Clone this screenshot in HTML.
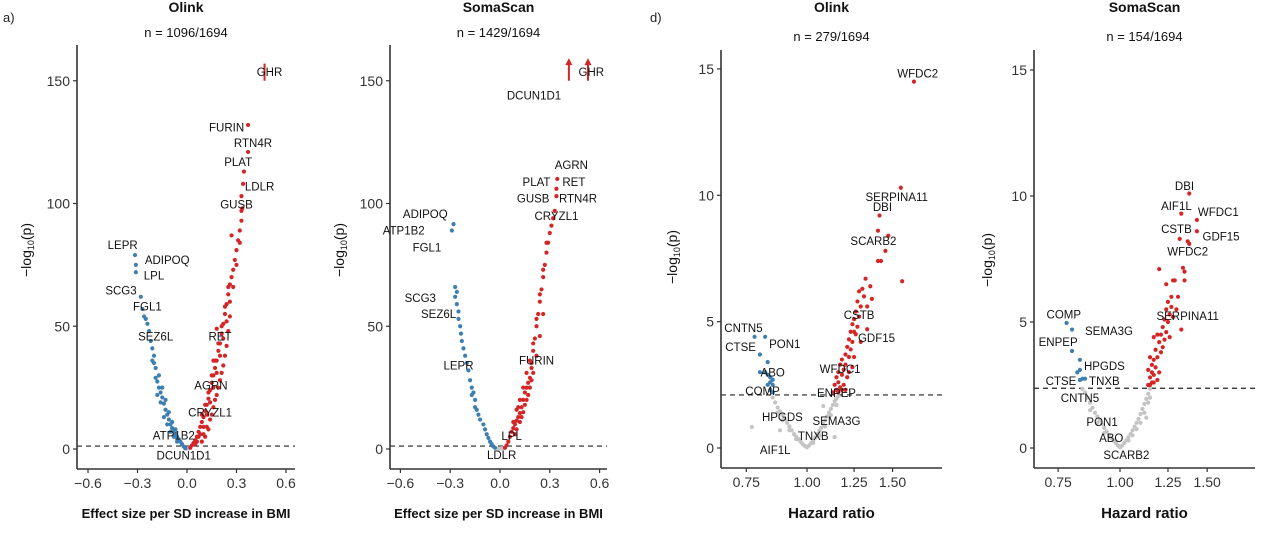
<!DOCTYPE html>
<html><head><meta charset="utf-8">
<style>
html,body{margin:0;padding:0;background:#fff;}
svg{display:block;font-family:"Liberation Sans",sans-serif;}
</style></head>
<body>
<svg id="fig" width="1280" height="544" viewBox="0 0 1280 544" xmlns="http://www.w3.org/2000/svg">
<text x="3" y="22" font-size="13" fill="#222">a)</text>
<text x="650" y="22" font-size="13" fill="#222">d)</text>
</svg>
<script>
// ---------- Panel A: Olink BMI ----------
const aRed = [[0.02,0.5],[0.03,1.5],[0.04,2.5],[0.05,3.5],[0.06,5],[0.07,7],[0.08,9],[0.09,11],[0.1,13],[0.11,15.5],[0.12,18],[0.13,20.5],[0.14,24],[0.15,27],[0.16,30],[0.17,33],[0.18,36],[0.19,40],[0.2,43],[0.21,47],[0.22,51],[0.23,55],[0.24,59],[0.25,63],[0.26,67],[0.27,70],[0.28,73],[0.29,77],[0.3,81],[0.31,85],[0.32,89],[0.33,93],[0.335,98],[0.33,103],[0.34,108],[0.345,113],[0.37,121],[0.37,132],[0.27,87],[0.18,49],[0.16,36],[0.06,3],[0.08,6],[0.1,9],[0.12,14],[0.14,19],[0.16,25],[0.18,31],[0.2,38],[0.22,45],[0.24,52],[0.26,60],[0.28,66],[0.3,75],[0.32,84],[0.33,97],[0.09,14],[0.11,18],[0.13,23],[0.15,30],[0.17,36],[0.19,43],[0.21,50],[0.23,58],[0.25,66],[0.07,5],[0.05,2],[0.1,6],[0.12,9],[0.14,12],[0.16,17],[0.18,22],[0.2,28],[0.22,34],[0.24,42],[0.13,8],[0.15,14],[0.17,20],[0.19,25],[0.21,31],[0.23,38],[0.11,5],[0.09,3],[0.25,48],[0.26,54]];
const aBlue = [[-0.01,0.3],[-0.02,1],[-0.03,2],[-0.04,3],[-0.05,4],[-0.06,5],[-0.07,6],[-0.08,7.5],[-0.09,8.5],[-0.1,10],[-0.11,12],[-0.12,14],[-0.13,16],[-0.14,18.5],[-0.15,21],[-0.16,23],[-0.17,25],[-0.18,27.5],[-0.19,33],[-0.2,38],[-0.21,41],[-0.22,44],[-0.23,48],[-0.24,51],[-0.25,53],[-0.26,54],[-0.27,57],[-0.28,62],[-0.315,79],[-0.31,75],[-0.31,72],[-0.13,20],[-0.15,25],[-0.17,30],[-0.2,35],[-0.11,15],[-0.09,11],[-0.07,8],[-0.18,22],[-0.16,19],[-0.06,3],[-0.08,5],[-0.1,7],[-0.12,10],[-0.14,13],[-0.19,29],[-0.21,36]];
const aGray = [[0,0.2],[0.01,0.3],[-0.01,0.2]];
const aBars = [[0.47,150,157]];
const aArrows = [];
const aLabels = [["GHR",0.5,153.6],["FURIN",0.24,131],["RTN4R",0.4,124.6],["PLAT",0.31,117],["LDLR",0.44,107],["GUSB",0.3,99.6],["LEPR",-0.39,83],["ADIPOQ",-0.12,77],["LPL",-0.2,70.7],["SCG3",-0.4,64.6],["FGL1",-0.24,58],["SEZ6L",-0.19,45.8],["RET",0.2,45.8],["AGRN",0.145,25.8],["CRYZL1",0.14,14.9],["ATP1B2",-0.08,5.5],["DCUN1D1",-0.02,-2.6]];
const aXTicks = [-0.6,-0.3,0.0,0.3,0.6];
const aXTickLabels = ["-0.6","-0.3","0.0","0.3","0.6"];
const aYTicks = [0,50,100,150];
const aThreshold = 1.2;

// ---------- Panel B: SomaScan BMI ----------
const bRed = [[0.03,0.5],[0.04,1.5],[0.05,3],[0.06,5],[0.07,7],[0.08,8.5],[0.09,10],[0.1,11.5],[0.11,13],[0.12,14.6],[0.13,17],[0.14,20],[0.15,23],[0.16,25],[0.17,27],[0.18,29],[0.19,35],[0.2,40],[0.21,45],[0.22,50],[0.23,55],[0.24,60],[0.25,65],[0.26,70],[0.27,75],[0.28,80],[0.29,84],[0.3,88],[0.31,91],[0.32,94],[0.34,103],[0.34,106],[0.345,110],[0.33,97],[0.1,16],[0.12,20],[0.14,25],[0.16,31],[0.18,36],[0.2,43],[0.22,53],[0.24,63],[0.26,73],[0.28,84],[0.08,11],[0.11,17],[0.19,33],[0.1,8],[0.12,11],[0.14,15],[0.16,20],[0.18,25],[0.2,31],[0.22,38],[0.24,46],[0.26,55],[0.09,6],[0.13,13],[0.15,18],[0.17,22],[0.19,28]];
const bBlue = [[-0.28,91.6],[-0.29,89],[-0.27,66],[-0.26,64],[-0.27,62],[-0.26,59],[-0.25,56],[-0.25,53],[-0.24,50],[-0.235,47],[-0.23,44],[-0.22,41],[-0.21,38],[-0.2,35],[-0.19,32],[-0.18,28],[-0.17,25],[-0.16,23],[-0.15,20],[-0.14,16],[-0.13,14],[-0.12,12],[-0.1,10],[-0.09,8],[-0.08,6],[-0.07,4.5],[-0.06,3],[-0.05,2],[-0.04,1],[-0.03,0.5],[-0.17,22],[-0.15,17]];
const bGray = [[0,0.2],[0.01,0.3],[-0.01,0.2],[0.02,0.3]];
const bBars = [];
const bArrows = [[0.415,150,158],[0.53,150,158]];
const bLabels = [["GHR",0.55,153.6],["DCUN1D1",0.205,144],["AGRN",0.43,115.7],["PLAT",0.22,108.8],["RET",0.445,108.8],["GUSB",0.2,102],["RTN4R",0.47,102],["CRYZL1",0.34,95],["ADIPOQ",-0.45,95.7],["ATP1B2",-0.58,89],["FGL1",-0.44,82],["SCG3",-0.48,61.5],["SEZ6L",-0.37,55],["LEPR",-0.25,34],["FURIN",0.22,36],["LPL",0.07,5.3],["LDLR",0.01,-2.4]];
const bXTicks = [-0.6,-0.3,0.0,0.3,0.6];
const bXTickLabels = ["-0.6","-0.3","0.0","0.3","0.6"];
const bYTicks = [0,50,100,150];
const bThreshold = 1.2;

// ---------- Panel D: Olink hazard ratio ----------
const dRed = [[1.13,2.2],[1.14,2.5],[1.15,2.3],[1.15,2.8],[1.16,2.6],[1.16,3.0],[1.17,2.4],[1.17,3.3],[1.18,2.9],[1.18,3.5],[1.19,3.1],[1.19,2.5],[1.2,3.7],[1.2,3.3],[1.21,4.0],[1.21,2.8],[1.22,3.6],[1.22,4.3],[1.23,4.6],[1.23,3.9],[1.24,4.9],[1.24,4.2],[1.25,5.1],[1.25,3.6],[1.26,5.4],[1.26,4.5],[1.27,5.8],[1.27,4.8],[1.28,6.2],[1.28,5.2],[1.29,5.6],[1.3,6.3],[1.31,6.0],[1.32,6.7],[1.33,5.6],[1.35,6.4],[1.36,5.9],[1.33,4.7],[1.24,3.2],[1.2,2.3],[1.4,7.4],[1.42,7.4],[1.45,7.8],[1.4,8.6],[1.47,8.4],[1.41,9.2],[1.56,10.3],[1.57,6.6],[1.66,14.5],[1.16,2.2],[1.18,2.3],[1.22,3.0],[1.25,4.6],[1.29,4.2]];
const dBlue = [[0.78,4.4],[0.82,4.4],[0.8,3.7],[0.83,3.4],[0.8,3.0],[0.82,3.0],[0.83,2.9],[0.84,2.8],[0.84,2.6],[0.85,2.5],[0.84,2.3],[0.85,2.2],[0.83,2.5],[0.85,2.7]];
const dGray = [[0.85,2.0],[0.86,1.8],[0.87,1.6],[0.88,1.45],[0.89,1.3],[0.9,1.15],[0.91,1.0],[0.92,0.85],[0.93,0.7],[0.94,0.55],[0.95,0.45],[0.96,0.35],[0.97,0.25],[0.98,0.15],[0.99,0.08],[1.0,0.03],[1.01,0.1],[1.02,0.2],[1.03,0.3],[1.04,0.42],[1.05,0.55],[1.06,0.68],[1.07,0.8],[1.08,0.95],[1.09,1.1],[1.1,1.25],[1.11,1.4],[1.12,1.55],[1.13,1.7],[1.14,1.85],[1.15,1.95],[1.16,2.05],[0.87,1.4],[0.89,1.1],[0.92,0.7],[0.95,0.35],[1.03,0.2],[1.06,0.5],[1.09,0.85],[1.12,1.3],[1.15,1.7],[0.77,0.83],[0.88,0.7],[1.08,1.66],[1.14,0.43]];
const dBars = [];
const dArrows = [];
const dLabels = [["WFDC2",1.69,14.82],["SERPINA11",1.53,9.93],["DBI",1.43,9.54],["SCARB2",1.37,8.19],["CSTB",1.28,5.26],["GDF15",1.39,4.35],["WFDC1",1.17,3.13],["ENPEP",1.15,2.18],["SEMA3G",1.15,1.07],["TNXB",1.03,0.47],["HPGDS",0.89,1.23],["AIF1L",0.86,-0.08],["CNTN5",0.74,4.75],["CTSE",0.73,4.0],["PON1",0.9,4.12],["ABO",0.85,2.99],["COMP",0.81,2.26]];
const dXTicks = [0.75,1.0,1.25,1.5];
const dXTickLabels = ["0.75","1.00","1.25","1.50"];
const dYTicks = [0,5,10,15];
const dThreshold = 2.1;

// ---------- Panel E: SomaScan hazard ratio ----------
const eRed = [[1.14,2.5],[1.15,2.8],[1.14,3.1],[1.16,2.6],[1.16,3.3],[1.15,3.6],[1.17,2.9],[1.17,3.5],[1.18,3.2],[1.18,3.9],[1.19,2.7],[1.19,3.6],[1.2,4.2],[1.2,3.0],[1.21,3.8],[1.21,4.5],[1.22,4.0],[1.22,4.8],[1.23,4.3],[1.23,5.1],[1.24,4.6],[1.24,5.5],[1.25,5.0],[1.25,5.8],[1.26,5.3],[1.26,4.4],[1.27,5.6],[1.27,6.0],[1.28,5.2],[1.28,6.65],[1.29,6.65],[1.3,5.5],[1.31,6.0],[1.33,4.7],[1.2,7.1],[1.34,7.15],[1.35,7.0],[1.35,6.65],[1.24,6.5],[1.32,8.3],[1.37,8.2],[1.38,8.1],[1.43,8.6],[1.43,9.05],[1.33,9.3],[1.38,10.1],[1.17,4.4],[1.19,4.5],[1.15,2.5],[1.17,2.6],[1.16,3.0]];
const eBlue = [[0.78,4.96],[0.8,4.7],[0.8,3.85],[0.83,3.5],[0.83,3.1],[0.82,3.0],[0.84,2.75],[0.85,2.75],[0.83,2.7]];
const eGray = [[0.84,2.35],[0.85,2.2],[0.86,2.0],[0.87,1.8],[0.88,1.6],[0.89,1.4],[0.9,1.25],[0.91,1.1],[0.92,0.95],[0.93,0.8],[0.94,0.65],[0.95,0.5],[0.96,0.4],[0.97,0.3],[0.98,0.2],[0.99,0.1],[1.0,0.03],[1.01,0.1],[1.02,0.2],[1.03,0.3],[1.04,0.42],[1.05,0.55],[1.06,0.7],[1.07,0.85],[1.08,1.0],[1.09,1.15],[1.1,1.35],[1.11,1.55],[1.12,1.75],[1.13,1.95],[1.14,2.15],[1.15,2.35],[1.04,0.3],[1.06,0.5],[1.08,0.75],[1.1,1.0],[1.12,1.4],[1.14,1.8],[1.15,2.0],[1.13,1.2],[0.87,1.5],[0.9,1.0],[0.93,0.6]];
const eBars = [];
const eArrows = [];
const eLabels = [["DBI",1.35,10.4],["AIF1L",1.3,9.6],["WFDC1",1.58,9.37],["CSTB",1.3,8.7],["GDF15",1.6,8.4],["WFDC2",1.37,7.8],["COMP",0.77,5.3],["SEMA3G",0.95,4.64],["ENPEP",0.75,4.2],["SERPINA11",1.37,5.24],["HPGDS",0.93,3.25],["CTSE",0.76,2.66],["TNXB",0.93,2.66],["CNTN5",0.83,1.98],["PON1",0.92,1.03],["ABO",0.96,0.4],["SCARB2",1.03,-0.28]];
const eXTicks = [0.75,1.0,1.25,1.5];
const eXTickLabels = ["0.75","1.00","1.25","1.50"];
const eYTicks = [0,5,10,15];
const eThreshold = 2.37;

const NS = "http://www.w3.org/2000/svg";
const svg = document.getElementById("fig");
function mk(tag, attrs, parent){
  const el = document.createElementNS(NS, tag);
  for (const k in attrs) el.setAttribute(k, attrs[k]);
  (parent||svg).appendChild(el);
  return el;
}

function panel(p){
  const g = mk("g", {});
  
  
  const X = v => p.log ? p.xc + p.xs*Math.log(v) : p.xc + p.xs*v;
  const Y = v => p.y0 - p.ys*v;
  const cx = (p.left + p.right)/2;
  const t1 = mk("text",{x:cx,y:p.titleY,"text-anchor":"middle","font-size":14,"font-weight":"bold",fill:"#111"},g);
  t1.textContent = p.title;
  
  
  const t2 = mk("text",{x:cx,y:p.nY,"text-anchor":"middle","font-size":13,fill:"#111"},g);
  t2.textContent = p.n;
  
  
  const th = mk("line",{x1:p.left,x2:p.right,y1:Y(p.thr),y2:Y(p.thr),stroke:"#222","stroke-width":1.2,"stroke-dasharray":"5,4"},g);
  
  
  const groups = [[p.gray,"#c4c4c4",'gray-point'],[p.blue,"#3d7fb0",'blue-point'],[p.red,"#d42626",'red-point']];
  for (const [arr,col,nm] of groups){
    for (const d of arr){
      const c = mk("circle",{cx:X(d[0]),cy:Y(d[1]),r:2.1,fill:col},g);
      
      
    }
  }
  for (const b of p.bars){
    const l = mk("line",{x1:X(b[0]),x2:X(b[0]),y1:Y(b[1]),y2:Y(b[2]),stroke:"#d42626","stroke-width":2},g);
    
    
  }
  for (const a of p.arrows){
    const x = X(a[0]), y1 = Y(a[1]), y2 = Y(a[2]);
    const l = mk("line",{x1:x,x2:x,y1:y1,y2:y2+3,stroke:"#d42626","stroke-width":2},g);
    
    
    const h = mk("polygon",{points:`${x-3.5},${y2+4} ${x+3.5},${y2+4} ${x},${y2-3}`,fill:"#d42626"},g);
    
    
  }
  for (const L of p.labels){
    const t = mk("text",{x:X(L[1]),y:Y(L[2])+4,"text-anchor":"middle","font-size":11.5,fill:"#111"},g);
    t.textContent = L[0];
    
    
  }
  const ax = mk("line",{x1:p.left,x2:p.left,y1:p.top,y2:p.bottom,stroke:"#333","stroke-width":1.6},g);
  
  
  const bx = mk("line",{x1:p.left,x2:p.right,y1:p.bottom,y2:p.bottom,stroke:"#333","stroke-width":1.6},g);
  
  
  p.yt.forEach(v=>{
    const y = Y(v);
    const tk = mk("line",{x1:p.left-4,x2:p.left,y1:y,y2:y,stroke:"#333","stroke-width":1.2},g);
    
    
    const tl = mk("text",{x:p.left-7,y:y+5,"text-anchor":"end","font-size":14,fill:"#333"},g);
    tl.textContent = String(v);
    
    
  });
  p.xt.forEach((v,i)=>{
    const x = X(v);
    const tk = mk("line",{x1:x,x2:x,y1:p.bottom,y2:p.bottom+4,stroke:"#333","stroke-width":1.2},g);
    
    
    const tl = mk("text",{x:x,y:p.bottom+19,"text-anchor":"middle","font-size":14,fill:"#333"},g);
    tl.textContent = p.xtl[i].replace("-","\u2212");
    
    
  });
  const xt = mk("text",{x:cx,y:518,"text-anchor":"middle","font-size":p.xfs,"font-weight":"bold",fill:"#111"},g);
  xt.textContent = p.xlabel;
  
  
  const yt = mk("text",{x:0,y:0,"text-anchor":"middle","font-size":14,fill:"#111",transform:`translate(${p.ylx},${p.lyc}) rotate(-90)`},g);
  yt.innerHTML = '\u2212log<tspan font-size="9" dy="3">10</tspan><tspan dy="-3">(p)</tspan>';
  
  
}

panel({id:"olink-bmi",title:"Olink",n:"n = 1096/1694",titleY:12,nY:37,log:false,xc:187,xs:165,y0:449,ys:2.455,left:77,right:295,top:45,bottom:469,
  red:aRed,blue:aBlue,gray:aGray,bars:aBars,arrows:aArrows,labels:aLabels,xt:aXTicks,xtl:aXTickLabels,yt:aYTicks,thr:aThreshold,
  xlabel:"Effect size per SD increase in BMI",xfs:13,ylx:31,lyc:250});
panel({id:"somascan-bmi",title:"SomaScan",n:"n = 1429/1694",titleY:12,nY:37,log:false,xc:500,xs:166,y0:449,ys:2.455,left:390,right:607,top:45,bottom:469,
  red:bRed,blue:bBlue,gray:bGray,bars:bBars,arrows:bArrows,labels:bLabels,xt:bXTicks,xtl:bXTickLabels,yt:bYTicks,thr:bThreshold,
  xlabel:"Effect size per SD increase in BMI",xfs:13,ylx:344,lyc:250});
panel({id:"olink-hr",title:"Olink",n:"n = 279/1694",titleY:12,nY:41,log:true,xc:807,xs:211,y0:448,ys:25.27,left:721,right:942,top:50,bottom:468,
  red:dRed,blue:dBlue,gray:dGray,bars:dBars,arrows:dArrows,labels:dLabels,xt:dXTicks,xtl:dXTickLabels,yt:dYTicks,thr:dThreshold,
  xlabel:"Hazard ratio",xfs:15,ylx:677,lyc:257});
panel({id:"somascan-hr",title:"SomaScan",n:"n = 154/1694",titleY:12,nY:41,log:true,xc:1120,xs:215,y0:448,ys:25.2,left:1034,right:1255,top:50,bottom:468,
  red:eRed,blue:eBlue,gray:eGray,bars:eBars,arrows:eArrows,labels:eLabels,xt:eXTicks,xtl:eXTickLabels,yt:eYTicks,thr:eThreshold,
  xlabel:"Hazard ratio",xfs:15,ylx:992,lyc:260});
</script>
</body></html>
